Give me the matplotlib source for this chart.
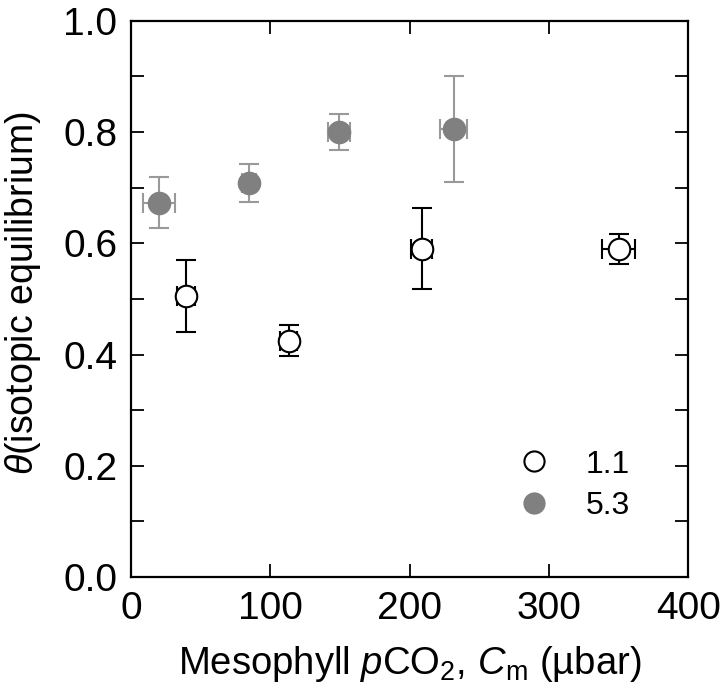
import matplotlib
matplotlib.use("Agg")
import matplotlib.pyplot as plt
from matplotlib.ticker import MultipleLocator

plt.rcParams["font.family"] = ["Liberation Sans", "DejaVu Sans"]
plt.rcParams["mathtext.fontset"] = "custom"
plt.rcParams["mathtext.rm"] = "Liberation Sans"
plt.rcParams["mathtext.it"] = "Liberation Sans:italic"

# series "1.1" (open circles)
cm_low = [39.5, 113.2, 208.7, 350.0]
cm_low_err = [6.5, 6.0, 7.5, 12.0]
theta_low = [0.505, 0.425, 0.590, 0.590]
theta_low_err = [0.065, 0.028, 0.073, 0.027]

# series "5.3" (filled circles)
cm_high = [20.1, 85.0, 149.4, 231.5]
cm_high_err = [11.5, 5.0, 7.8, 10.0]
theta_high = [0.673, 0.708, 0.800, 0.805]
theta_high_err = [0.046, 0.034, 0.033, 0.095]

labels = ["1.1", "5.3"]

fig = plt.figure(figsize=(7.2, 6.96), dpi=100)
ax = fig.add_axes([0.182, 0.171, 0.774, 0.799])

ax.errorbar(cm_low, theta_low, xerr=cm_low_err, yerr=theta_low_err, fmt="o",
            ms=15.5, mfc="white", mec="black", mew=1.5, ecolor="black",
            elinewidth=1.5, capsize=7, capthick=1.5, zorder=3)
ax.errorbar(cm_high, theta_high, xerr=cm_high_err, yerr=theta_high_err, fmt="o",
            ms=15.5, mfc="#808080", mec="#808080", mew=1.5, ecolor="#999999",
            elinewidth=1.5, capsize=7, capthick=1.5, zorder=3)

# legend handles (markers only)
h1, = ax.plot([], [], "o", ms=14.5, mfc="white", mec="black", mew=1.5)
h2, = ax.plot([], [], "o", ms=14.5, mfc="#808080", mec="#808080", mew=1.5)
ax.legend([h1, h2], labels, loc="center left", bbox_to_anchor=(0.689, 0.165),
          frameon=False, fontsize=23, handletextpad=1.0, labelspacing=0.35,
          borderaxespad=0, borderpad=0, handlelength=1.2)

ax.set_xlim(0, 400)
ax.set_ylim(0, 1.0)
ax.xaxis.set_major_locator(MultipleLocator(100))
ax.yaxis.set_major_locator(MultipleLocator(0.2))
ax.yaxis.set_minor_locator(MultipleLocator(0.1))
ax.yaxis.set_major_formatter(matplotlib.ticker.FormatStrFormatter("%.1f"))

ax.tick_params(which="both", direction="in", top=True, right=True,
               length=9.5, width=1.3, labelsize=28, pad=10)
for s in ax.spines.values():
    s.set_linewidth(1.6)

ax.set_xlabel(r"Mesophyll $\it{p}$CO$_2$, $\it{C}$$_\mathrm{m}$ (µbar)",
              fontsize=27.5, labelpad=12)
ax.set_ylabel(r"$\it{\theta}$(isotopic equilibrium)", fontsize=27)
ax.yaxis.set_label_coords(-0.158, 0.51)

fig.savefig("out.png", dpi=100)
